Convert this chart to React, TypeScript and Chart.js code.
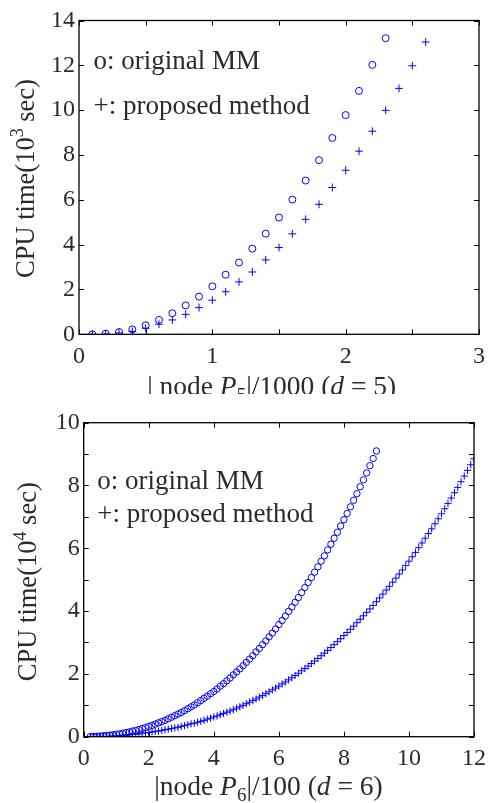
import React, { useEffect, useRef } from "react";
import { Chart, registerables } from "chart.js";
Chart.register(...registerables);

// ---------- Top chart (d = 5) ----------
const topOriginalX = [0.1, 0.2, 0.3, 0.4, 0.5, 0.6, 0.7, 0.8, 0.9, 1.0, 1.1, 1.2, 1.3, 1.4, 1.5, 1.6, 1.7, 1.8, 1.9, 2.0, 2.1, 2.2, 2.3];
const topOriginalY = [0, 0.03, 0.1, 0.22, 0.4, 0.64, 0.94, 1.29, 1.68, 2.14, 2.66, 3.2, 3.82, 4.49, 5.21, 6.01, 6.86, 7.77, 8.76, 9.78, 10.86, 12.02, 13.21];
const topProposedX = [0.1, 0.2, 0.3, 0.4, 0.5, 0.6, 0.7, 0.8, 0.9, 1.0, 1.1, 1.2, 1.3, 1.4, 1.5, 1.6, 1.7, 1.8, 1.9, 2.0, 2.1, 2.2, 2.3, 2.4, 2.5, 2.6];
const topProposedY = [0, 0.01, 0.06, 0.13, 0.27, 0.45, 0.64, 0.89, 1.19, 1.52, 1.9, 2.34, 2.78, 3.32, 3.87, 4.48, 5.13, 5.8, 6.55, 7.32, 8.17, 9.06, 9.99, 10.97, 11.98, 13.04];

// ---------- Bottom chart (d = 6) ----------
const botOriginalX = [
  0.2, 0.3, 0.4, 0.5, 0.6, 0.7, 0.8, 0.9, 1.0, 1.1, 1.2, 1.3, 1.4, 1.5, 1.6, 1.7, 1.8, 1.9, 2.0,
  2.1, 2.2, 2.3, 2.4, 2.5, 2.6, 2.7, 2.8, 2.9, 3.0, 3.1, 3.2, 3.3, 3.4, 3.5, 3.6, 3.7, 3.8, 3.9, 4.0,
  4.1, 4.2, 4.3, 4.4, 4.5, 4.6, 4.7, 4.8, 4.9, 5.0, 5.1, 5.2, 5.3, 5.4, 5.5, 5.6, 5.7, 5.8, 5.9, 6.0,
  6.1, 6.2, 6.3, 6.4, 6.5, 6.6, 6.7, 6.8, 6.9, 7.0, 7.1, 7.2, 7.3, 7.4, 7.5, 7.6, 7.7, 7.8, 7.9, 8.0,
  8.1, 8.2, 8.3, 8.4, 8.5, 8.6, 8.7, 8.8, 8.9, 9.0
];
const botOriginalY = [
  0.0, 0.01, 0.01, 0.02, 0.03, 0.04, 0.05, 0.06, 0.08, 0.09, 0.11, 0.13, 0.15, 0.18, 0.2, 0.23, 0.26, 0.29, 0.33,
  0.36, 0.4, 0.44, 0.48, 0.52, 0.57, 0.62, 0.67, 0.72, 0.77, 0.83, 0.89, 0.95, 1.01, 1.08, 1.15, 1.22, 1.29, 1.37, 1.44,
  1.52, 1.61, 1.69, 1.78, 1.87, 1.97, 2.06, 2.16, 2.26, 2.37, 2.47, 2.58, 2.7, 2.81, 2.93, 3.05, 3.18, 3.3, 3.43, 3.57,
  3.7, 3.84, 3.99, 4.13, 4.28, 4.43, 4.59, 4.75, 4.91, 5.07, 5.24, 5.41, 5.59, 5.76, 5.95, 6.13, 6.32, 6.51, 6.71, 6.91,
  7.11, 7.32, 7.53, 7.74, 7.96, 8.18, 8.4, 8.63, 8.86, 9.1
];
const botProposedX = [
  0.2, 0.3, 0.4, 0.5, 0.6, 0.7, 0.8, 0.9, 1.0, 1.1, 1.2, 1.3, 1.4, 1.5, 1.6, 1.7, 1.8, 1.9, 2.0,
  2.1, 2.2, 2.3, 2.4, 2.5, 2.6, 2.7, 2.8, 2.9, 3.0, 3.1, 3.2, 3.3, 3.4, 3.5, 3.6, 3.7, 3.8, 3.9, 4.0,
  4.1, 4.2, 4.3, 4.4, 4.5, 4.6, 4.7, 4.8, 4.9, 5.0, 5.1, 5.2, 5.3, 5.4, 5.5, 5.6, 5.7, 5.8, 5.9, 6.0,
  6.1, 6.2, 6.3, 6.4, 6.5, 6.6, 6.7, 6.8, 6.9, 7.0, 7.1, 7.2, 7.3, 7.4, 7.5, 7.6, 7.7, 7.8, 7.9, 8.0,
  8.1, 8.2, 8.3, 8.4, 8.5, 8.6, 8.7, 8.8, 8.9, 9.0, 9.1, 9.2, 9.3, 9.4, 9.5, 9.6, 9.7, 9.8, 9.9, 10.0,
  10.1, 10.2, 10.3, 10.4, 10.5, 10.6, 10.7, 10.8, 10.9, 11.0, 11.1, 11.2, 11.3, 11.4, 11.5, 11.6, 11.7, 11.8, 11.9, 12.0
];
const botProposedY = [
  0.0, 0.0, 0.01, 0.01, 0.01, 0.01, 0.02, 0.02, 0.03, 0.04, 0.05, 0.05, 0.06, 0.07, 0.08, 0.09, 0.11, 0.12, 0.13,
  0.15, 0.17, 0.18, 0.2, 0.22, 0.24, 0.26, 0.28, 0.3, 0.33, 0.35, 0.38, 0.41, 0.43, 0.46, 0.49, 0.52, 0.56, 0.59, 0.63,
  0.66, 0.7, 0.74, 0.78, 0.82, 0.86, 0.91, 0.95, 1.0, 1.05, 1.1, 1.15, 1.2, 1.26, 1.31, 1.37, 1.43, 1.49, 1.55, 1.61,
  1.68, 1.74, 1.81, 1.88, 1.95, 2.02, 2.1, 2.17, 2.25, 2.33, 2.41, 2.49, 2.58, 2.66, 2.75, 2.84, 2.93, 3.03, 3.12, 3.22,
  3.32, 3.42, 3.52, 3.63, 3.74, 3.85, 3.96, 4.07, 4.18, 4.3, 4.42, 4.54, 4.67, 4.79, 4.92, 5.05, 5.18, 5.31, 5.45, 5.59,
  5.73, 5.87, 6.02, 6.17, 6.32, 6.47, 6.62, 6.78, 6.94, 7.1, 7.26, 7.43, 7.6, 7.77, 7.94, 8.12, 8.3, 8.48, 8.66, 8.85
];

const legendOriginal = "o: original MM";
const legendProposed = "+: proposed method";

const FONT = "'Liberation Serif', 'DejaVu Serif', serif";
const TEXT = "#2b2b2b";
const BLUE = "#0000ff";

type Seg = { t: string; italic?: boolean; sub?: boolean; sup?: boolean };

function segFont(s: Seg, size: number) {
  const sz = s.sub || s.sup ? Math.round(size * 0.68) : size;
  return `${s.italic ? "italic " : ""}${sz}px ${FONT}`;
}

function drawRich(ctx: CanvasRenderingContext2D, segs: Seg[], size: number, x: number, y: number, center: boolean) {
  let total = 0;
  for (const s of segs) {
    ctx.font = segFont(s, size);
    total += ctx.measureText(s.t).width;
  }
  let cx = center ? x - total / 2 : x;
  ctx.textBaseline = "alphabetic";
  ctx.textAlign = "left";
  for (const s of segs) {
    ctx.font = segFont(s, size);
    const dy = s.sub ? size * 0.22 : s.sup ? -size * 0.38 : 0;
    ctx.fillText(s.t, cx, y + dy);
    cx += ctx.measureText(s.t).width;
  }
}

const framePlugin = {
  id: "frame",
  afterDraw(chart: any, _args: any, opts: any) {
    const { ctx, chartArea: a, scales } = chart;
    ctx.save();
    ctx.strokeStyle = "#000";
    ctx.lineWidth = 1.3;
    ctx.strokeRect(a.left, a.top, a.right - a.left, a.bottom - a.top);
    const L = 5;
    ctx.lineWidth = 1;
    ctx.beginPath();
    for (const t of scales.x.ticks) {
      const px = Math.round(scales.x.getPixelForValue(t.value)) + 0.5;
      ctx.moveTo(px, a.bottom); ctx.lineTo(px, a.bottom - L);
      ctx.moveTo(px, a.top); ctx.lineTo(px, a.top + L);
    }
    for (const t of scales.y.ticks) {
      const py = Math.round(scales.y.getPixelForValue(t.value)) + 0.5;
      ctx.moveTo(a.left, py); ctx.lineTo(a.left + L, py);
      ctx.moveTo(a.right, py); ctx.lineTo(a.right - L, py);
    }
    ctx.stroke();

    ctx.fillStyle = TEXT;
    ctx.font = `27px ${FONT}`;
    ctx.textAlign = "left";
    ctx.textBaseline = "alphabetic";
    ctx.fillText(legendOriginal, opts.legX, opts.leg1Y);
    ctx.fillText(legendProposed, opts.legX, opts.leg2Y);

    drawRich(ctx, opts.xLabel, 27.5, opts.xLabX, opts.xLabY, true);

    ctx.save();
    ctx.translate(opts.yLabX, opts.yLabY);
    ctx.rotate(-Math.PI / 2);
    drawRich(ctx, opts.yLabel, 26.5, 0, 0, true);
    ctx.restore();
    ctx.restore();
  },
};

function makeConfig(p: any) {
  return {
    type: "scatter",
    data: {
      datasets: [
        {
          data: p.ox.map((x: number, i: number) => ({ x, y: p.oy[i] })),
          pointStyle: "circle",
          pointRadius: p.r,
          pointBorderWidth: 1,
          pointBorderColor: BLUE,
          pointBackgroundColor: "rgba(0,0,0,0)",
          showLine: false,
        },
        {
          data: p.px.map((x: number, i: number) => ({ x, y: p.py[i] })),
          pointStyle: "cross",
          pointRadius: p.r + 0.4,
          pointBorderWidth: 1,
          pointBorderColor: BLUE,
          pointBackgroundColor: BLUE,
          showLine: false,
        },
      ],
    },
    options: {
      animation: false,
      responsive: false,
      events: [],
      layout: { padding: { left: 0, top: p.padTop, right: p.padRight, bottom: 0 } },
      plugins: {
        legend: { display: false },
        tooltip: { enabled: false },
        frame: p.frame,
      },
      scales: {
        x: {
          type: "linear",
          min: p.xMin, max: p.xMax,
          grid: { display: false, drawTicks: false },
          border: { display: false },
          ticks: {
            stepSize: p.xStep,
            autoSkip: false,
            maxRotation: 0,
            padding: p.xPad,
            color: TEXT,
            font: { family: FONT, size: 24 },
            callback: (v: number) => (Math.abs(v - Math.round(v / p.xLabStep) * p.xLabStep) < 1e-6 ? String(Math.round(v)) : ""),
          },
          afterFit: (s: any) => { s.height = p.xAxisH; },
        },
        y: {
          type: "linear",
          min: p.yMin, max: p.yMax,
          grid: { display: false, drawTicks: false },
          border: { display: false },
          ticks: {
            stepSize: p.yStep,
            autoSkip: false,
            padding: 4,
            color: TEXT,
            font: { family: FONT, size: 24 },
            callback: (v: number) => (Math.abs(v - Math.round(v / p.yLabStep) * p.yLabStep) < 1e-6 ? String(Math.round(v)) : ""),
          },
          afterFit: (s: any) => { s.width = p.yAxisW; },
        },
      },
    },
    plugins: [framePlugin],
  };
}

function ChartCanvas({ cfg, width, height, top }: { cfg: any; width: number; height: number; top: number }) {
  const ref = useRef<HTMLCanvasElement | null>(null);
  useEffect(() => {
    if (!ref.current) return;
    const chart = new Chart(ref.current, cfg);
    return () => chart.destroy();
  }, []);
  return (
    <canvas
      ref={ref}
      width={width}
      height={height}
      style={{ position: "absolute", left: 0, top, width, height, display: "block" }}
    />
  );
}

export default function App() {
  const topCfg = makeConfig({
    ox: topOriginalX, oy: topOriginalY, px: topProposedX, py: topProposedY, r: 3.5,
    xMin: 0, xMax: 3, xStep: 0.5, xLabStep: 1,
    yMin: 0, yMax: 14, yStep: 2, yLabStep: 2,
    padTop: 20.5, padRight: 15, xAxisH: 394 - 334.3, yAxisW: 79, xPad: 8,
    frame: {
      legX: 93.5, leg1Y: 68.5, leg2Y: 113.5,
      xLabel: [{ t: "| node " }, { t: "P", italic: true }, { t: "5", sub: true }, { t: "|/1000 (" }, { t: "d", italic: true }, { t: " = 5)" }],
      xLabX: 271.7, xLabY: 395,
      yLabel: [{ t: "CPU time(10" }, { t: "3", sup: true }, { t: " sec)" }],
      yLabX: 33.5, yLabY: 178.5,
    },
  });
  const botCfg = makeConfig({
    ox: botOriginalX, oy: botOriginalY, px: botProposedX, py: botProposedY, r: 3.2,
    xMin: 0, xMax: 12, xStep: 2, xLabStep: 2,
    yMin: 0, yMax: 10, yStep: 1, yLabStep: 2,
    padTop: 28.7, padRight: 11.7, xAxisH: 409 - 342.7, yAxisW: 83.7, xPad: 8,
    frame: {
      legX: 97.3, leg1Y: 95.3, leg2Y: 127.7,
      xLabel: [{ t: "|node " }, { t: "P", italic: true }, { t: "6", sub: true }, { t: "|/100 (" }, { t: "d", italic: true }, { t: " = 6)" }],
      xLabX: 268.5, xLabY: 401,
      yLabel: [{ t: "CPU time(10" }, { t: "4", sup: true }, { t: " sec)" }],
      yLabX: 36, yLabY: 187.7,
    },
  });
  return (
    <div style={{ position: "absolute", left: 0, top: 0, width: 494, height: 803, background: "#fff" }}>
      <ChartCanvas cfg={topCfg} width={494} height={394} top={0} />
      <ChartCanvas cfg={botCfg} width={494} height={409} top={394} />
    </div>
  );
}
